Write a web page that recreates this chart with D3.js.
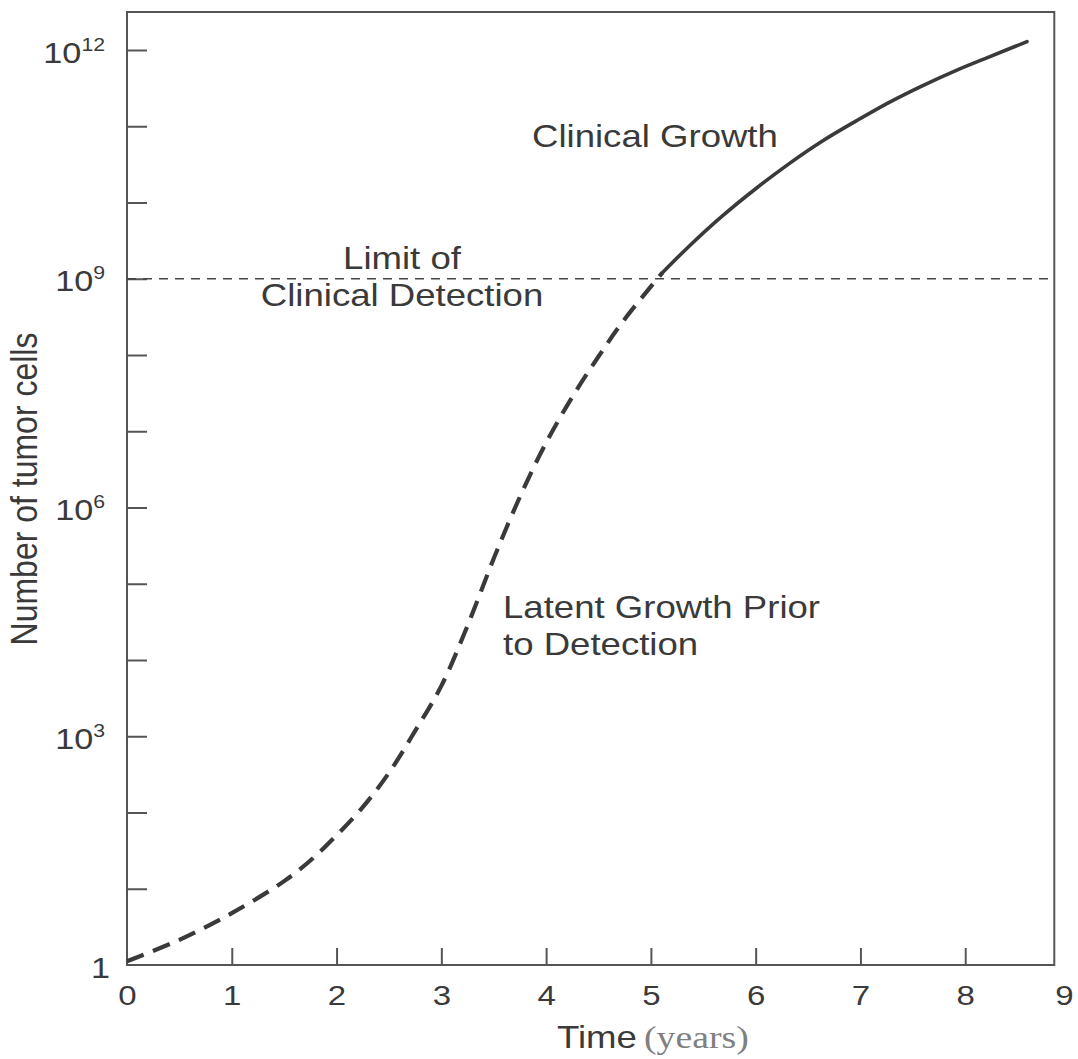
<!DOCTYPE html>
<html>
<head>
<meta charset="utf-8">
<script src="https://cdn.jsdelivr.net/npm/d3@7"></script>
<style>
  body { margin: 0; background: #fff; }
  svg { display: block; }
  .lbl { font-family: "Liberation Sans", Arial, Helvetica, sans-serif; fill: #3a3a3a; }
</style>
</head>
<body>
<div id="chart"></div>
<script>
// years on the x axis, tick labels 0..9
const yearTicks = [0, 1, 2, 3, 4, 5, 6, 7, 8, 9];
// decades (powers of ten) with a tick, labels only every third
const decadeTicks = [0, 1, 2, 3, 4, 5, 6, 7, 8, 9, 10, 11, 12];
const decadeLabels = [0, 3, 6, 9, 12];

// latent growth (dashed) : years and log10(cells)
const latentYears = [0, 0.5, 1.0, 1.5, 1.75, 2.0, 2.25, 2.5, 2.75, 3.0, 3.25, 3.5, 3.75, 4.0, 4.25, 4.5, 4.75, 5.11];
const latentLog = [0.05, 0.33, 0.68, 1.10, 1.37, 1.70, 2.07, 2.52, 3.07, 3.66, 4.45, 5.33, 6.14, 6.85, 7.45, 7.98, 8.47, 9.08];

// clinical growth (solid)
const clinicalYears = [5.11, 5.36, 5.68, 6.0, 6.32, 6.63, 6.96, 7.27, 7.59, 7.91, 8.23, 8.59];
const clinicalLog = [9.08, 9.42, 9.82, 10.18, 10.51, 10.80, 11.07, 11.31, 11.53, 11.73, 11.91, 12.11];

const detectionLimit = 9;

const W = 1078, H = 1059;
// the scanned figure is a bit wider than tall: stretch glyphs horizontally
const SX = 1.18;

const svg = d3.select("#chart").append("svg")
    .attr("width", W).attr("height", H);

const x = d3.scaleLinear().domain([0, 9]).range([127, 1070]);
const y = d3.scaleLog().domain([1, 1e12]).range([965, 50]);

const frameRight = x(8.85), frameTop = 12;
const ink = "#3a3a3a";

// frame
svg.append("rect")
    .attr("x", x(0)).attr("y", frameTop)
    .attr("width", frameRight - x(0))
    .attr("height", y(1) - frameTop)
    .attr("fill", "none").attr("stroke", "#555").attr("stroke-width", 2);

// x axis
const xAxis = svg.append("g")
    .attr("transform", `translate(0,${y(1)})`)
    .call(d3.axisBottom(x).tickValues(yearTicks).tickSize(-17).tickFormat(d3.format("d")));
xAxis.select(".domain").remove();
xAxis.selectAll(".tick line")
    .attr("stroke", "#555").attr("stroke-width", 2)
    .attr("display", d => (d === 0 || d === 9) ? "none" : null);
xAxis.selectAll(".tick text")
    .attr("class", "lbl")
    .attr("y", 0).attr("dy", 0)
    // last label sits on the page edge, nudge it in
    .attr("transform", d => `translate(${d === 9 ? -6 : 0},40) scale(${SX},1)`)
    .attr("font-size", 28).attr("fill", "#444");

// y axis
const yAxis = svg.append("g")
    .attr("transform", `translate(${x(0)},0)`)
    .call(d3.axisLeft(y).tickValues(decadeTicks.map(d => Math.pow(10, d))).tickSize(-20).tickFormat(""));
yAxis.select(".domain").remove();
yAxis.selectAll(".tick line")
    .attr("stroke", "#555").attr("stroke-width", 2)
    .attr("display", d => d === 1 ? "none" : null);
yAxis.selectAll(".tick text").remove();
yAxis.selectAll(".tick").each(function (d) {
    const e = Math.round(Math.log10(d));
    if (!decadeLabels.includes(e)) return;
    const t = d3.select(this).append("text")
        .attr("class", "lbl")
        .attr("transform", `translate(${e === 0 ? -17 : -22},12) scale(${SX},1)`)
        .attr("text-anchor", "end")
        .attr("font-size", 29)
        .attr("fill", "#444");
    if (e === 0) {
        t.text("1");
    } else {
        t.append("tspan").text("10");
        t.append("tspan").attr("font-size", 18).attr("dy", -12).text(e);
    }
});

// limit of detection line
svg.append("line")
    .attr("x1", x(0)).attr("x2", frameRight)
    .attr("y1", y(Math.pow(10, detectionLimit))).attr("y2", y(Math.pow(10, detectionLimit)))
    .attr("stroke", "#444").attr("stroke-width", 1.6)
    .attr("stroke-dasharray", "9,7");

const line = d3.line()
    .x(d => x(d[0]))
    .y(d => y(Math.pow(10, d[1])))
    .curve(d3.curveCatmullRom.alpha(0.5));

svg.append("path")
    .datum(latentYears.map((t, i) => [t, latentLog[i]]))
    .attr("d", line)
    .attr("fill", "none").attr("stroke", ink)
    .attr("stroke-width", 4.2)
    .attr("stroke-dasharray", "18,10");

svg.append("path")
    .datum(clinicalYears.map((t, i) => [t, clinicalLog[i]]))
    .attr("d", line)
    .attr("fill", "none").attr("stroke", ink)
    .attr("stroke-width", 3.6)
    .attr("stroke-linecap", "round");

// annotations
function note(txt, px, py, anchor) {
    svg.append("text").attr("class", "lbl")
        .attr("transform", `translate(${px},${py}) scale(${SX},1)`)
        .attr("text-anchor", anchor)
        .attr("font-size", 31)
        .text(txt);
}
note("Clinical Growth", 532, 147, "start");
note("Limit of", 402, 269, "middle");
note("Clinical Detection", 402, 306, "middle");
note("Latent Growth Prior", 503, 618, "start");
note("to Detection", 503, 655, "start");

// axis titles
svg.append("text").attr("class", "lbl")
    .attr("transform", `translate(37,489) rotate(-90) scale(1,${SX})`)
    .attr("text-anchor", "middle")
    .attr("font-size", 32)
    .text("Number of tumor cells");

const xt = svg.append("text")
    .attr("transform", `translate(557,1048) scale(${SX},1)`);
xt.append("tspan")
    .attr("font-family", "'Liberation Sans', Arial, sans-serif")
    .attr("font-size", 31).attr("fill", "#3a3a3a")
    .text("Time");
xt.append("tspan")
    .attr("font-family", "'Liberation Serif', 'Times New Roman', serif")
    .attr("font-size", 32).attr("fill", "#808080")
    .attr("dx", 6)
    .text("(years)");
</script>
</body>
</html>
